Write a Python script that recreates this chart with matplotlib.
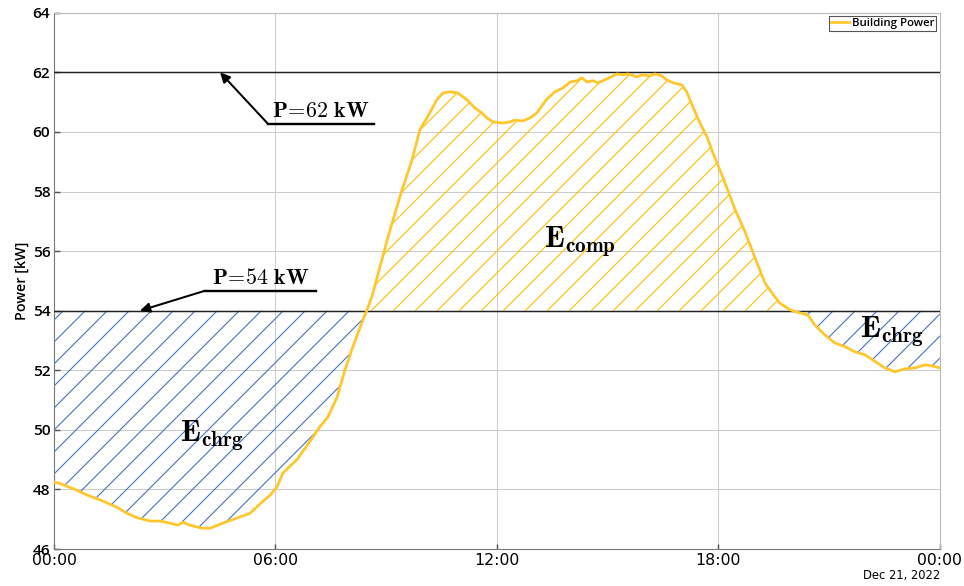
import numpy as np
import matplotlib
matplotlib.use("Agg")
import matplotlib.pyplot as plt

# building power over one day (hours since midnight, kW)
hours = [0.0, 0.16, 0.57, 0.92, 1.25, 1.71, 1.98, 2.25, 2.6, 2.87, 3.14, 3.36, 3.49, 3.68,
         4.01, 4.23, 4.58, 4.96, 5.31, 5.66, 5.85, 6.04, 6.2, 6.58, 6.93, 7.2, 7.42, 7.67,
         7.88, 8.1, 8.34, 8.48, 8.61, 8.83, 9.05, 9.24, 9.43, 9.7, 9.91, 10.18, 10.37, 10.54,
         10.73, 10.94, 11.19, 11.4, 11.59, 11.73, 11.89, 12.16, 12.35, 12.49, 12.7, 12.89,
         13.08, 13.35, 13.57, 13.79, 13.98, 14.17, 14.3, 14.44, 14.6, 14.73, 14.98, 15.25,
         15.41, 15.55, 15.79, 15.95, 16.14, 16.28, 16.47, 16.6, 16.77, 17.01, 17.14, 17.31,
         17.5, 17.69, 17.85, 18.12, 18.45, 18.72, 18.91, 19.12, 19.26, 19.45, 19.66, 19.94,
         20.2, 20.42, 20.61, 20.88, 21.15, 21.42, 21.7, 21.97, 22.24, 22.51, 22.78, 23.05,
         23.32, 23.59, 23.78, 24.0]
power = [48.25, 48.2, 48.0, 47.8, 47.65, 47.4, 47.2, 47.05, 46.94, 46.94, 46.87, 46.8, 46.9, 46.8,
         46.7, 46.7, 46.87, 47.04, 47.2, 47.6, 47.8, 48.08, 48.55, 49.0, 49.6, 50.1, 50.43, 51.1,
         52.0, 52.8, 53.6, 54.03, 54.46, 55.47, 56.48, 57.28, 58.06, 59.06, 60.07, 60.64, 61.08, 61.31,
         61.35, 61.31, 61.08, 60.81, 60.64, 60.47, 60.34, 60.3, 60.34, 60.4, 60.37, 60.47,
         60.64, 61.1, 61.35, 61.48, 61.68, 61.72, 61.82, 61.68, 61.72, 61.65, 61.78, 61.95,
         61.92, 61.95, 61.85, 61.92, 61.88, 61.95, 61.88, 61.75, 61.65, 61.58, 61.35, 60.84,
         60.3, 59.84, 59.3, 58.48, 57.4, 56.65, 56.04, 55.37, 54.93, 54.6, 54.26, 54.03,
         53.93, 53.86, 53.52, 53.19, 52.92, 52.8, 52.62, 52.52, 52.3, 52.08, 51.95, 52.05,
         52.08, 52.18, 52.15, 52.08]

p_low = 54
p_high = 62
tick_hours = [0, 6, 12, 18, 24]
tick_labels = ["00:00", "06:00", "12:00", "18:00", "00:00"]
date_label = "Dec 21, 2022"

plt.rcParams["mathtext.fontset"] = "cm"
plt.rcParams["hatch.linewidth"] = 0.6

x = np.array(hours)
y = np.array(power)

fig = plt.figure(figsize=(964 / 132, 586 / 132), dpi=132)
ax = fig.add_axes([0.056, 0.0631, 0.919, 0.915])

gold = "#FFC72C"
hatch_gold = "#FFC000"
blue = "#4472C4"

ax.fill_between(x, y, p_low, where=y <= p_low, interpolate=True,
                facecolor="none", edgecolor=blue, hatch="//", linewidth=0)
ax.fill_between(x, y, p_low, where=y >= p_low, interpolate=True,
                facecolor="none", edgecolor=hatch_gold, hatch="//", linewidth=0)
ax.axhline(p_low, color="#222222", lw=0.8, zorder=3)
ax.axhline(p_high, color="#222222", lw=0.8, zorder=3)
ax.plot(x, y, color=gold, lw=1.5, label="Building Power", zorder=4)

ax.set_xlim(0, 24)
ax.set_ylim(46, 64)
ax.set_yticks(np.arange(46, 65, 2))
ax.set_xticks(tick_hours)
ax.set_xticklabels(tick_labels, fontfamily=["Liberation Sans Narrow", "DejaVu Sans"], fontsize=8.6)
for t in ax.get_yticklabels():
    t.set_fontfamily("Open Sans")
    t.set_fontweight("semibold")
    t.set_fontsize(8.4)
ax.tick_params(direction="in", length=3, color="#555555", pad=2)
ax.grid(True, color="#cccccc", lw=0.55)
ax.set_axisbelow(True)
for s in ["left", "bottom"]:
    ax.spines[s].set_color("#777777")
for s in ["top", "right"]:
    ax.spines[s].set_color("#bbbbbb")
for s in ax.spines.values():
    s.set_linewidth(0.6)

ax.set_ylabel("Power [kW]", fontfamily="Open Sans", fontweight="semibold", fontsize=7.8, labelpad=2)
ax.text(1.0, -0.05, date_label, transform=ax.transAxes, ha="right", va="center",
        fontfamily=["Liberation Sans Narrow", "DejaVu Sans"], fontsize=6.3)

leg = ax.legend(loc="upper right", fancybox=False, framealpha=1, edgecolor="#555555",
                handlelength=1.6, borderpad=0.15, handletextpad=0.3, borderaxespad=0.3,
                prop={"family": "Open Sans", "weight": "semibold", "size": 6.2})
leg.get_frame().set_linewidth(0.6)

# level annotations: (label, arrow tip x, arrow tip y, underline start x, underline end x, underline y)
notes = [(r"$\mathbf{P\!=\!62\ kW}$", 4.5, p_high, 5.8, 8.67, 60.27),
         (r"$\mathbf{P\!=\!54\ kW}$", 2.33, p_low, 4.09, 7.1, 54.67)]
for label, tip_x, tip_y, x0, x1, uy in notes:
    ax.annotate("", xy=(tip_x, tip_y), xytext=(x0, uy),
                arrowprops=dict(arrowstyle="-|>", color="black", lw=1.1, mutation_scale=11,
                                shrinkA=0, shrinkB=0), zorder=5)
    ax.plot([x0, x1], [uy, uy], color="black", lw=1.3, zorder=5)
    ax.text((x0 + x1) / 2, uy + 0.1, label, ha="center", va="bottom", fontsize=12, zorder=5)

energy_labels = [(r"$\mathbf{E_{chrg}}$", 4.28, 49.8),
                 (r"$\mathbf{E_{comp}}$", 14.25, 56.3),
                 (r"$\mathbf{E_{chrg}}$", 22.7, 53.3)]
for label, lx, ly in energy_labels:
    ax.text(lx, ly, label, ha="center", va="center", fontsize=16.5, zorder=5)

fig.savefig("out.png", dpi=132)
